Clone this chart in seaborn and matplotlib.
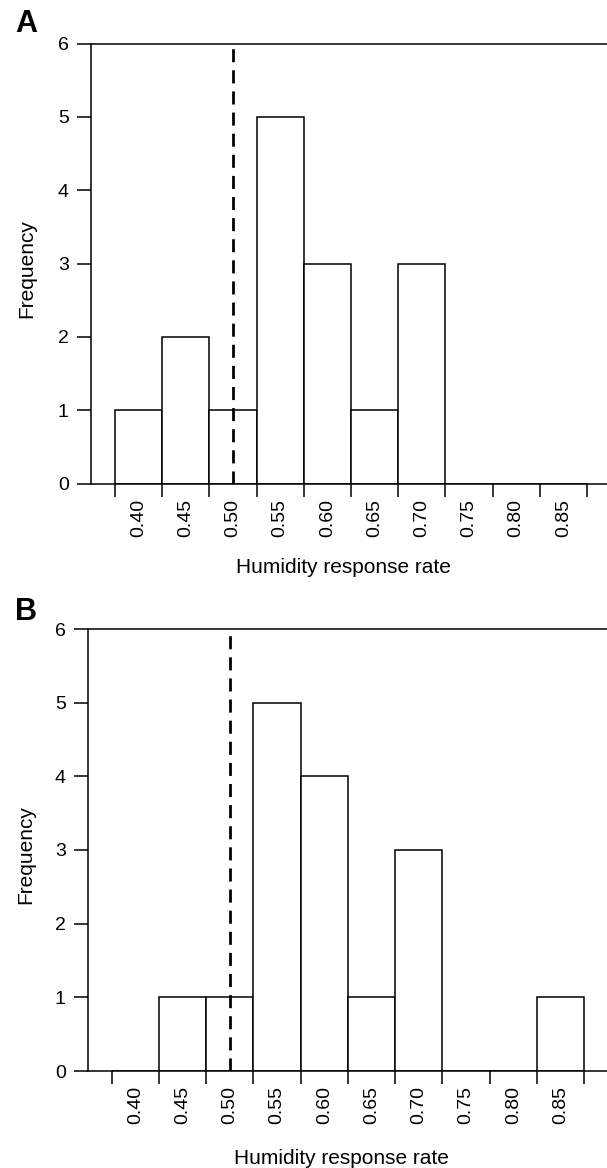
import numpy as np
import pandas as pd
import matplotlib
matplotlib.use("Agg")
import matplotlib.pyplot as plt
import seaborn as sns

# ---- data ----
bin_labels = ["0.40", "0.45", "0.50", "0.55", "0.60", "0.65", "0.70", "0.75", "0.80", "0.85"]
bin_centers = [0.40, 0.45, 0.50, 0.55, 0.60, 0.65, 0.70, 0.75, 0.80, 0.85]
counts_a = [1, 2, 1, 5, 3, 1, 3, 0, 0, 0]
counts_b = [0, 1, 1, 5, 4, 1, 3, 0, 0, 1]
threshold = 0.50
y_ticks = [0, 1, 2, 3, 4, 5, 6]
panel_letters = ["A", "B"]
x_label = "Humidity response rate"
y_label = "Frequency"

sns.set_theme(style="white")
plt.rcParams['font.family'] = ['Liberation Sans', 'DejaVu Sans']

W, H = 607, 1168
fig = plt.figure(figsize=(W / 100, H / 100), dpi=100)

binwidth = 0.05
lo = bin_centers[0] - binwidth / 2
hi = bin_centers[-1] + binwidth / 2
edges = lo + binwidth * np.arange(len(bin_centers) + 1)

# panel geometry in pixels: left, top, bottom, xlim
panels = [
    dict(left=91, top=43.5, bottom=483.5, xlim=(0.3496, 0.8962), counts=counts_a,
         letter_xy=(26, 23.5), xlab=(0.490, -0.192), ylab=(-0.125, 0.4875)),
    dict(left=88, top=629, bottom=1071, xlim=(0.3499, 0.8991), counts=counts_b,
         letter_xy=(26, 611.5), xlab=(0.4875, -0.197), ylab=(-0.119, 0.489)),
]

spine_lw = 1.1
for p, letter in zip(panels, panel_letters):
    ax = fig.add_axes([p["left"] / W, 1 - p["bottom"] / H, 1 - p["left"] / W,
                       (p["bottom"] - p["top"]) / H])
    df = pd.DataFrame({"x": bin_centers, "w": p["counts"]})
    sns.histplot(data=df, x="x", weights="w", binwidth=binwidth, binrange=(lo, hi), ax=ax,
                 color="white", edgecolor="black", linewidth=1.1, alpha=1)
    ax.axvline(threshold, ymin=0, ymax=1, color="black", lw=2.0,
               linestyle=(0, (4.7, 2.9)), zorder=3)
    ax.set_xlim(*p["xlim"])
    ax.set_ylim(0, 6)
    for s in ["left", "bottom", "top"]:
        ax.spines[s].set_visible(True)
        ax.spines[s].set_color("black")
        ax.spines[s].set_linewidth(spine_lw)
    ax.spines["right"].set_visible(False)

    ax.set_yticks(y_ticks)
    ax.set_yticklabels([str(v) for v in y_ticks], fontsize=14)
    ax.tick_params(axis="y", which="major", direction="out", length=10, width=spine_lw,
                   color="black", pad=6, left=True, labelcolor="black")

    ax.set_xticks(edges)
    ax.set_xticklabels([""] * len(edges))
    ax.tick_params(axis="x", which="major", direction="out", length=9.5, width=spine_lw,
                   color="black", bottom=True)
    ax.set_xticks(bin_centers, minor=True)
    ax.set_xticklabels(bin_labels, minor=True, rotation=90, fontsize=14)
    ax.tick_params(axis="x", which="minor", length=0, pad=11, labelcolor="black")

    ax.set_xlabel(x_label, fontsize=15, color="black")
    ax.xaxis.set_label_coords(*p["xlab"])
    ax.xaxis.label.set_verticalalignment("center")
    ax.set_ylabel(y_label, fontsize=15, color="black")
    ax.yaxis.set_label_coords(*p["ylab"])
    ax.yaxis.label.set_verticalalignment("center")
    ax.grid(False)

    fig.text(p["letter_xy"][0] / W, 1 - p["letter_xy"][1] / H, letter,
             fontsize=22, fontweight="bold", ha="center", va="center", color="black")

fig.savefig("out.png", dpi=100, facecolor="white")
